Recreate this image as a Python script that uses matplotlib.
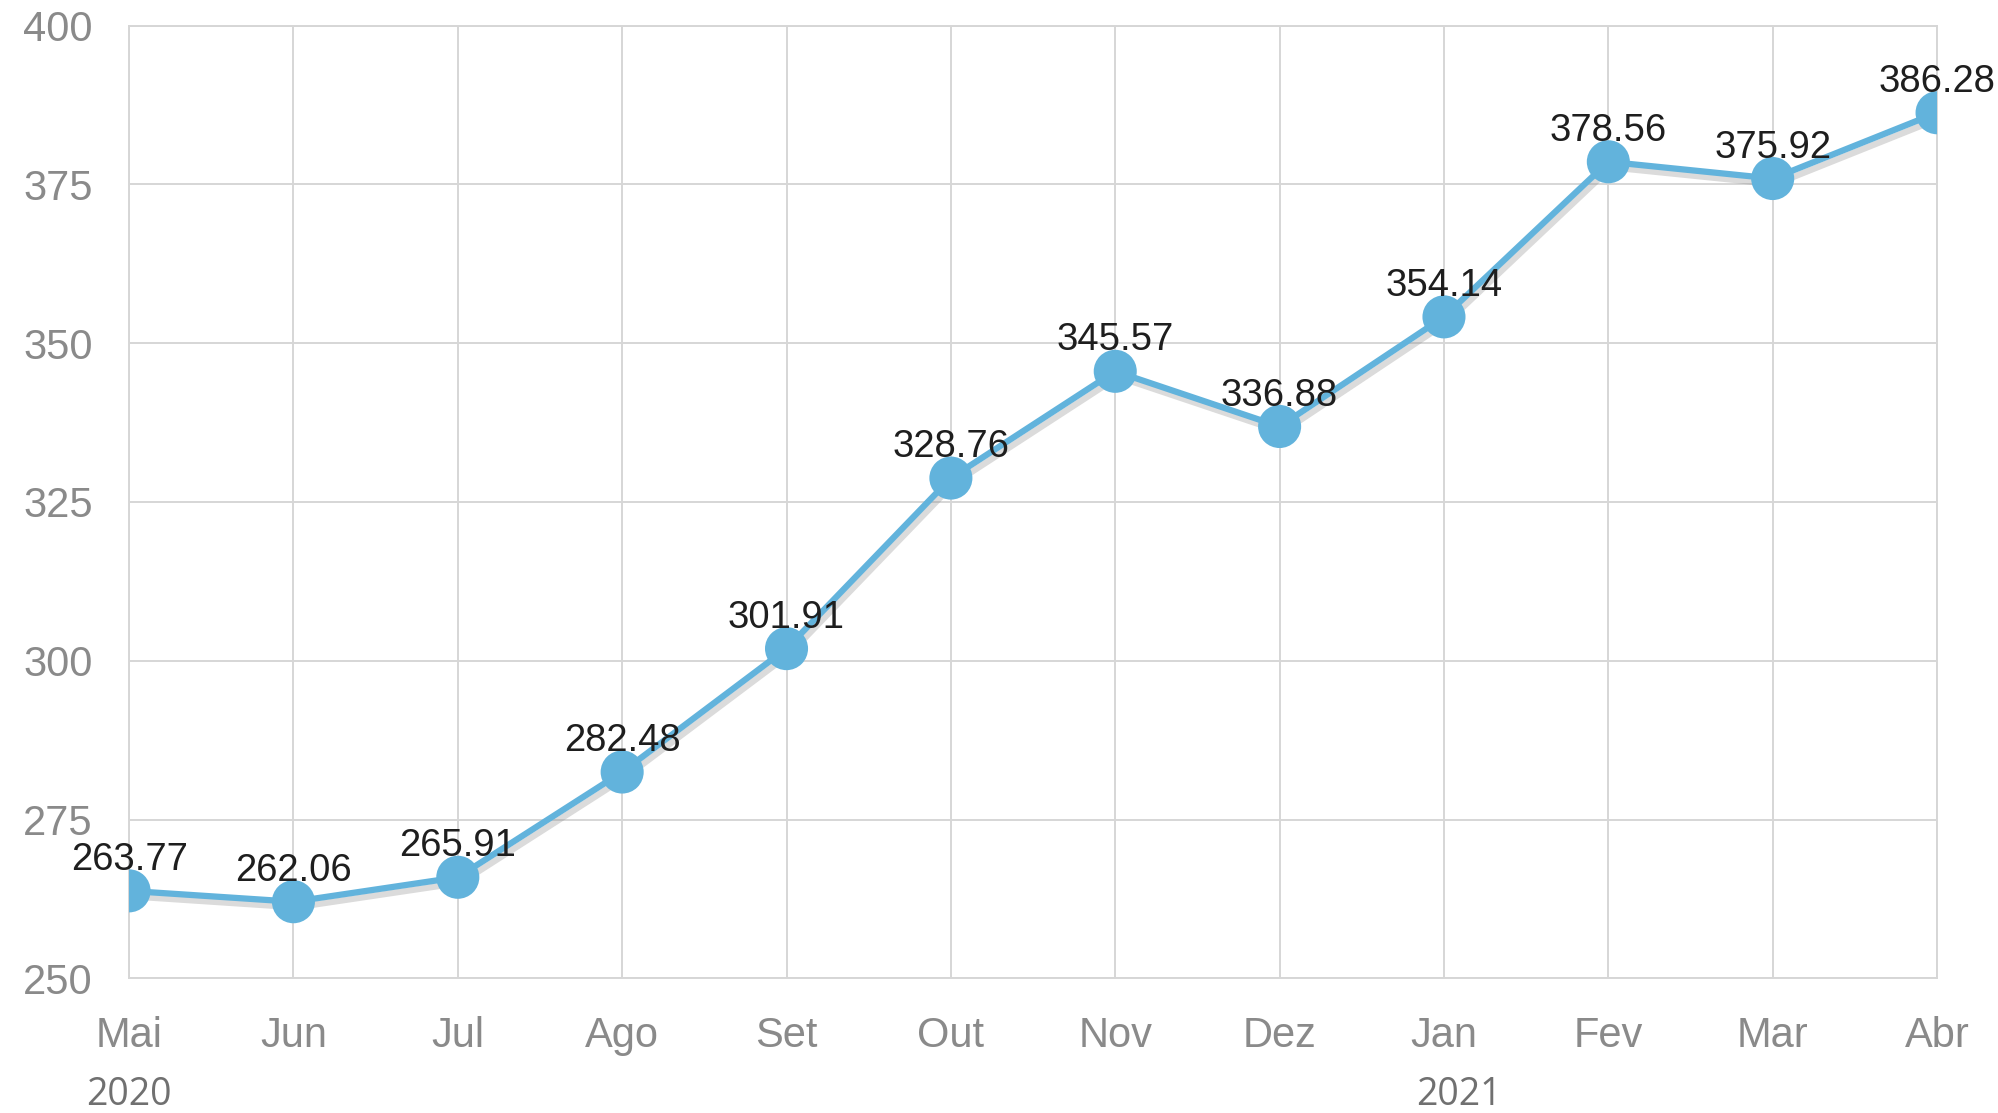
import matplotlib
matplotlib.use("Agg")
import matplotlib.pyplot as plt
import matplotlib.patheffects as pe
from matplotlib.transforms import blended_transform_factory

months = ["Mai", "Jun", "Jul", "Ago", "Set", "Out", "Nov", "Dez", "Jan", "Fev", "Mar", "Abr"]
values = [263.77, 262.06, 265.91, 282.48, 301.91, 328.76, 345.57, 336.88, 354.14, 378.56, 375.92, 386.28]
years = ["2020", "2021"]
year_month_index = [0, 8]
y_ticks = [250, 275, 300, 325, 350, 375, 400]

narrow = ["Liberation Sans Narrow", "Liberation Sans", "DejaVu Sans"]

fig = plt.figure(figsize=(19.98, 11.13), dpi=100)
ax = fig.add_axes([0.0646, 0.121, 0.9049, 0.856])

x = list(range(len(months)))
line_color = "#62b3dc"
ax.plot(x, values, color=line_color, lw=4.5, marker="o", markersize=31,
        markeredgewidth=0, zorder=3,
        path_effects=[pe.SimpleLineShadow(offset=(2, -4), shadow_color="#888888", alpha=0.3),
                      pe.Normal()])

for xi, v in zip(x, values):
    ax.annotate(f"{v:.2f}", (xi, v), xytext=(0, 31), textcoords="offset pixels",
                ha="center", va="center", fontsize=27.5, color="#1e1e1e",
                family=narrow, zorder=4)

ax.set_xlim(0, len(months) - 1)
ax.set_ylim(250, 400)
ax.set_yticks(y_ticks)
ax.set_xticks(x)
ax.set_xticklabels(months)
ax.grid(True, color="#d6d6d6", lw=1.4)
ax.set_axisbelow(True)
for s in ax.spines.values():
    s.set_color("#d6d6d6")
    s.set_linewidth(1.4)
ax.tick_params(axis="both", length=0, labelcolor="#8a8a8a", labelsize=30)
ax.tick_params(axis="x", pad=27)
ax.tick_params(axis="y", pad=26)
for lab in ax.get_xticklabels() + ax.get_yticklabels():
    lab.set_family(narrow)

trans = blended_transform_factory(ax.transData, fig.transFigure)
for yr, idx in zip(years, year_month_index):
    xpos = idx + (0.09 if idx > 0 else 0)
    ax.text(xpos, 1 - 1095 / 1113, yr, transform=trans, ha="center", va="center",
            fontsize=27, color="#707070", family=["Open Sans", "DejaVu Sans"])

fig.savefig("out.png", dpi=100)
